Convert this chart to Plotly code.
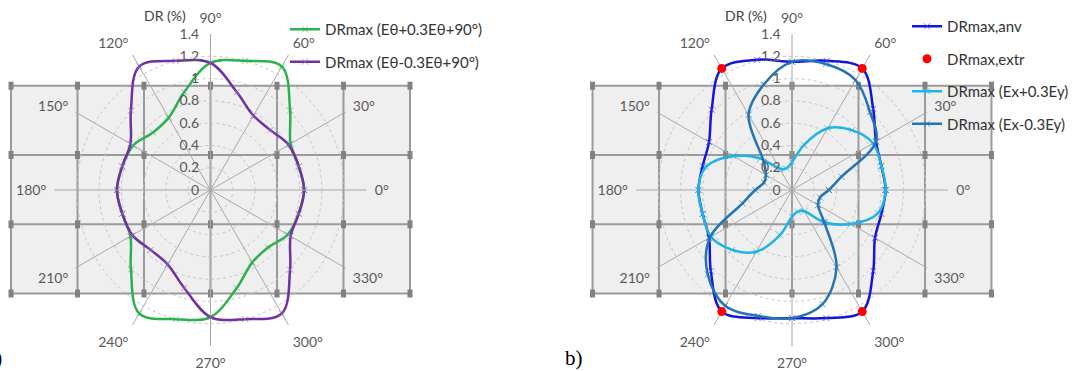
import plotly.graph_objects as go

W, H = 1078, 371

# ---------------- data ----------------
theta = [0, 15, 30, 45, 60, 75, 90, 105, 120, 135, 150, 165,
         180, 195, 210, 225, 240, 255, 270, 285, 300, 315, 330, 345]

# chart a)
dr_plus_90 = [0.84, 0.82, 0.83, 1.01, 1.28, 1.20, 1.14, 0.91, 0.75, 0.73, 0.80, 0.82,
              0.84, 0.82, 0.83, 1.01, 1.28, 1.20, 1.14, 0.91, 0.75, 0.73, 0.80, 0.82]
dr_minus_90 = [0.84, 0.82, 0.81, 0.76, 0.77, 0.91, 1.14, 1.20, 1.28, 1.01, 0.83, 0.82,
               0.84, 0.82, 0.81, 0.76, 0.77, 0.91, 1.14, 1.20, 1.28, 1.01, 0.83, 0.82]

# chart b)
dr_anv = [0.84, 0.83, 0.87, 1.03, 1.26, 1.20, 1.15, 1.21, 1.26, 1.02, 0.86, 0.83,
          0.84, 0.83, 0.86, 1.03, 1.26, 1.19, 1.15, 1.19, 1.26, 1.03, 0.86, 0.83]
extr_theta = [60, 120, 240, 300]
dr_extr = [1.26, 1.26, 1.26, 1.26]
dr_ex_plus = [0.84, 0.83, 0.84, 0.76, 0.64, 0.42, 0.25, 0.20, 0.22, 0.40, 0.61, 0.80,
              0.84, 0.83, 0.84, 0.76, 0.64, 0.42, 0.24, 0.20, 0.22, 0.41, 0.61, 0.80]
dr_ex_minus = [0.33, 0.46, 0.87, 0.99, 1.14, 1.17, 1.15, 0.98, 0.78, 0.36, 0.27, 0.26,
               0.33, 0.46, 0.85, 1.07, 1.20, 1.17, 1.15, 1.06, 0.80, 0.41, 0.27, 0.26]

r_ticks = [0, 0.2, 0.4, 0.6, 0.8, 1.0, 1.2, 1.4]
ang_ticks = [0, 30, 60, 90, 120, 150, 180, 210, 240, 270, 300, 330]
ang_labels = [f"{a}°" for a in ang_ticks]

FONT = "Lato"


def closed(v):
    return list(v) + [v[0]]


def px(x):
    return x / W


def py(y):
    return 1 - y / H


fig = go.Figure()


def add_curve(r, name, color, subplot, legend, mcolor):
    fig.add_trace(go.Scatterpolar(
        r=closed(r), theta=closed(theta), name=name, mode="lines+markers",
        line=dict(color=color, width=2.5, shape="spline", smoothing=1.0),
        marker=dict(symbol="x-thin", size=6, line=dict(color=mcolor, width=1)),
        subplot=subplot, legend=legend, legendgroup=name, hoverinfo="skip"))


add_curve(dr_plus_90, "DRmax (Eθ+0.3Eθ+90°)", "#2bb14f", "polar", "legend", "rgba(43,177,79,0.6)")
add_curve(dr_minus_90, "DRmax (Eθ-0.3Eθ+90°)", "#7030a0", "polar", "legend", "rgba(150,110,200,0.7)")

add_curve(dr_anv, "DRmax,anv", "#1414dc", "polar2", "legend2", "rgba(60,60,240,0.7)")
fig.add_trace(go.Scatterpolar(
    r=dr_extr, theta=extr_theta, name="DRmax,extr", mode="markers",
    marker=dict(symbol="circle", size=9, color="#ff0000"),
    subplot="polar2", legend="legend2", legendgroup="extr", hoverinfo="skip"))
add_curve(dr_ex_plus, "DRmax (Ex+0.3Ey)", "#1fb4e8", "polar2", "legend2", "rgba(31,180,232,0.7)")
add_curve(dr_ex_minus, "DRmax (Ex-0.3Ey)", "#2374b5", "polar2", "legend2", "rgba(35,116,181,0.7)")

R = 156.0


def polar_layout(cx, cy):
    return dict(
        domain=dict(x=[px(cx - R), px(cx + R)], y=[py(cy + R), py(cy - R)]),
        bgcolor="rgba(0,0,0,0)",
        gridshape="linear",
        radialaxis=dict(range=[0, 1.4], tickvals=r_ticks, angle=90, side="counterclockwise",
                        showline=False, ticks="outside", ticklen=6, tickcolor="rgba(0,0,0,0)",
                        tickangle=90,
                        tickfont=dict(family=FONT, size=14, color="#595959"),
                        gridcolor="#c4c4c4", griddash="dot", gridwidth=1),
        angularaxis=dict(direction="counterclockwise", rotation=0, tickvals=ang_ticks,
                         ticktext=ang_labels, showline=False, gridcolor="#a8a8a8", gridwidth=1,
                         ticks="outside", ticklen=5, tickcolor="rgba(0,0,0,0)",
                         tickfont=dict(family=FONT, size=14, color="#595959")),
    )


CX1, CX2, CY = 210.5, 792.0, 190.0

# background floor-plan grids
shapes = []
GX = 66.5
GY = [85.7, 155.0, 224.3, 293.5]
for cx in (CX1, CX2):
    xs = [cx - 3 * GX + k * GX for k in range(7)]
    shapes.append(dict(type="rect", xref="paper", yref="paper", layer="below",
                       x0=px(xs[0]), x1=px(xs[-1]), y0=py(GY[-1]), y1=py(GY[0]),
                       fillcolor="#efefef", line=dict(width=0)))
    for x in xs:
        shapes.append(dict(type="line", xref="paper", yref="paper", layer="below",
                           x0=px(x), x1=px(x), y0=py(GY[-1]), y1=py(GY[0]),
                           line=dict(color="#9a9a9a", width=2)))
    for y in GY:
        shapes.append(dict(type="line", xref="paper", yref="paper", layer="below",
                           x0=px(xs[0]), x1=px(xs[-1]), y0=py(y), y1=py(y),
                           line=dict(color="#9a9a9a", width=2)))
    for x in xs:
        for y in GY:
            shapes.append(dict(type="rect", xref="paper", yref="paper", layer="below",
                               x0=px(x - 2.5), x1=px(x + 2.5), y0=py(y + 4), y1=py(y - 4),
                               fillcolor="#828282", line=dict(width=0)))

annotations = [
    dict(text="DR (%)", x=px(CX1 - 46), y=py(16), xref="paper", yref="paper", showarrow=False,
         xanchor="center", yanchor="middle", font=dict(family=FONT, size=14, color="#404040")),
    dict(text="DR (%)", x=px(CX2 - 46), y=py(16), xref="paper", yref="paper", showarrow=False,
         xanchor="center", yanchor="middle", font=dict(family=FONT, size=14, color="#404040")),
    dict(text="a)", x=px(4), y=py(358), xref="paper", yref="paper", showarrow=False,
         xanchor="right", yanchor="middle",
         font=dict(family="Liberation Serif", size=21, color="#000000")),
    dict(text="b)", x=px(574), y=py(358), xref="paper", yref="paper", showarrow=False,
         xanchor="center", yanchor="middle",
         font=dict(family="Liberation Serif", size=21, color="#000000")),
]

legend_common = dict(xanchor="left", yanchor="top", bgcolor="rgba(0,0,0,0)",
                     font=dict(family=FONT, size=15, color="#333333"),
                     itemwidth=30, tracegroupgap=10, traceorder="grouped")

fig.update_layout(
    width=W, height=H, margin=dict(l=0, r=0, t=0, b=0),
    paper_bgcolor="white", plot_bgcolor="white",
    polar=polar_layout(CX1, CY), polar2=polar_layout(CX2, CY),
    shapes=shapes, annotations=annotations,
    legend=dict(x=px(285), y=py(13), **legend_common),
    legend2=dict(x=px(907), y=py(10), **legend_common),
    showlegend=True,
)

fig.write_html("out.html", config={"displayModeBar": False},
               post_script="document.body.style.margin='0';")
